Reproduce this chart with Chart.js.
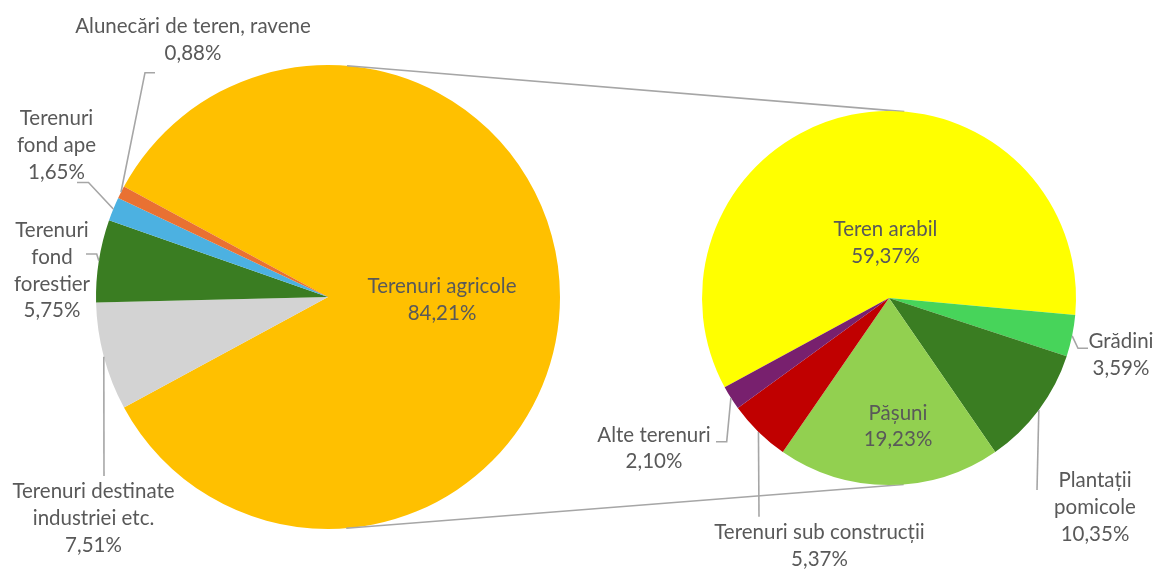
<!DOCTYPE html>
<html>
<head>
<meta charset="utf-8">
<script src="https://cdn.jsdelivr.net/npm/chart.js@4.4.1/dist/chart.umd.min.js"></script>
<style>
html,body{margin:0;padding:0;background:#ffffff;}
#wrap{position:relative;width:1161px;height:569px;overflow:hidden;}
#wrap canvas{position:absolute;left:0;top:0;}
</style>
</head>
<body>
<div id="wrap">
<canvas id="c1" width="1161" height="569"></canvas>
<canvas id="c2" width="1161" height="569"></canvas>
</div>
<script>
// ---- data ----
const leftCategories = ["Terenuri agricole", "Terenuri destinate\nindustriei etc.", "Terenuri\nfond\nforestier", "Terenuri\nfond ape", "Alunecări de teren, ravene"];
const leftValues = [84.21, 7.51, 5.75, 1.65, 0.88];
const leftColors = ["#FFC000", "#D3D3D3", "#3A7D22", "#4CB1E1", "#E97132"];

const rightCategories = ["Teren arabil", "Grădini", "Plantații\npomicole", "Pășuni", "Terenuri sub construcții", "Alte terenuri"];
const rightValues = [59.37, 3.59, 10.35, 19.23, 5.37, 2.10];
const rightColors = ["#FFFF00", "#47D45A", "#3A7D22", "#92D050", "#C00000", "#78206E"];

// ---- label layout (offsets from pie centre) ----
const leftLayout = [
  {dx: 114, dy: 3},
  {dx: -234.5, dy: 221.3, leader: [[-224, 179]]},
  {dx: -276, dy: -26.2, leader: [[-231.3, -43], [-242, -43]]},
  {dx: -271.5, dy: -151.7, leader: [[-239.5, -114.5], [-251, -114.5]]},
  {dx: -135, dy: -257, leader: [[-183, -224.3], [-173, -224.3]]}
];
const rightLayout = [
  {dx: -3.5, dy: -55.3},
  {dx: 232, dy: 57, leader: [[189, 50.3], [199, 50.3]]},
  {dx: 206, dy: 209.5, leader: [[148, 192]]},
  {dx: 9, dy: 128.5},
  {dx: -69.5, dy: 248, leader: [[-130, 218.7]]},
  {dx: -235, dy: 150.5, leader: [[-162.3, 143.7], [-173, 143.7]]}
];

const FONT = '20.5px Lato, "Open Sans", sans-serif';
const TEXT_COLOR = '#595959';
const LINE_COLOR = '#A6A6A6';
const LINE_H = 26.7;

function fmtPct(v) { return v.toFixed(2).replace('.', ',') + '%'; }

function labelPlugin(id, cats, vals, layout) {
  return {
    id: id,
    afterDatasetsDraw(chart) {
      const ctx = chart.ctx;
      const arcs = chart.getDatasetMeta(0).data;
      const cx = arcs[0].x, cy = arcs[0].y, r = arcs[0].outerRadius;
      ctx.save();
      ctx.strokeStyle = LINE_COLOR;
      ctx.lineWidth = 1.6;
      ctx.lineJoin = 'miter';
      layout.forEach((L, i) => {
        if (!L.leader) return;
        const a = arcs[i];
        const mid = (a.startAngle + a.endAngle) / 2;
        ctx.beginPath();
        ctx.moveTo(cx + r * Math.cos(mid), cy + r * Math.sin(mid));
        L.leader.forEach(p => ctx.lineTo(cx + p[0], cy + p[1]));
        ctx.stroke();
      });
      ctx.font = FONT;
      ctx.fillStyle = TEXT_COLOR;
      ctx.textAlign = 'center';
      ctx.textBaseline = 'middle';
      layout.forEach((L, i) => {
        const lines = cats[i].split('\n').concat([fmtPct(vals[i])]);
        const y0 = cy + L.dy - (lines.length - 1) * LINE_H / 2;
        lines.forEach((t, k) => ctx.fillText(t, cx + L.dx, y0 + k * LINE_H));
      });
      ctx.restore();
    }
  };
}

const leftTotal = leftValues.reduce((s, v) => s + v, 0);
const leftRotation = 90 - (leftValues[0] / leftTotal) * 180;

const commonOpts = {
  responsive: false,
  animation: false,
  events: [],
  plugins: {legend: {display: false}, tooltip: {enabled: false}},
  elements: {arc: {borderWidth: 0, offset: 0, hoverOffset: 0}}
};

const chart1 = new Chart(document.getElementById('c1'), {
  type: 'pie',
  data: {
    labels: leftCategories,
    datasets: [{data: leftValues, backgroundColor: leftColors, borderWidth: 0, hoverOffset: 0}]
  },
  options: Object.assign({}, commonOpts, {
    rotation: leftRotation,
    layout: {padding: {left: 96, right: 601, top: 65, bottom: 40}}
  }),
  plugins: [labelPlugin('leftLabels', leftCategories, leftValues, leftLayout)]
});

const connectorPlugin = {
  id: 'connectors',
  beforeDatasetsDraw(chart) {
    const a = chart1.getDatasetMeta(0).data[0];
    const b = chart.getDatasetMeta(0).data[0];
    const x1 = a.x, y1 = a.y, r1 = a.outerRadius;
    const x2 = b.x, y2 = b.y, r2 = b.outerRadius;
    const d = Math.hypot(x2 - x1, y2 - y1);
    const base = Math.atan2(y2 - y1, x2 - x1);
    const t = Math.acos((r1 - r2) / d);
    const ctx = chart.ctx;
    ctx.save();
    ctx.strokeStyle = LINE_COLOR;
    ctx.lineWidth = 1.6;
    [-1, 1].forEach(s => {
      const ang = base + s * t;
      ctx.beginPath();
      ctx.moveTo(x1 + r1 * Math.cos(ang), y1 + r1 * Math.sin(ang));
      ctx.lineTo(x2 + r2 * Math.cos(ang), y2 + r2 * Math.sin(ang));
      ctx.stroke();
    });
    ctx.restore();
  }
};

const chart2 = new Chart(document.getElementById('c2'), {
  type: 'pie',
  data: {
    labels: rightCategories,
    datasets: [{data: rightValues, backgroundColor: rightColors, borderWidth: 0, hoverOffset: 0}]
  },
  options: Object.assign({}, commonOpts, {
    rotation: 241.5,
    layout: {padding: {left: 702, right: 85, top: 111, bottom: 84}}
  }),
  plugins: [connectorPlugin, labelPlugin('rightLabels', rightCategories, rightValues, rightLayout)]
});
</script>
</body>
</html>
